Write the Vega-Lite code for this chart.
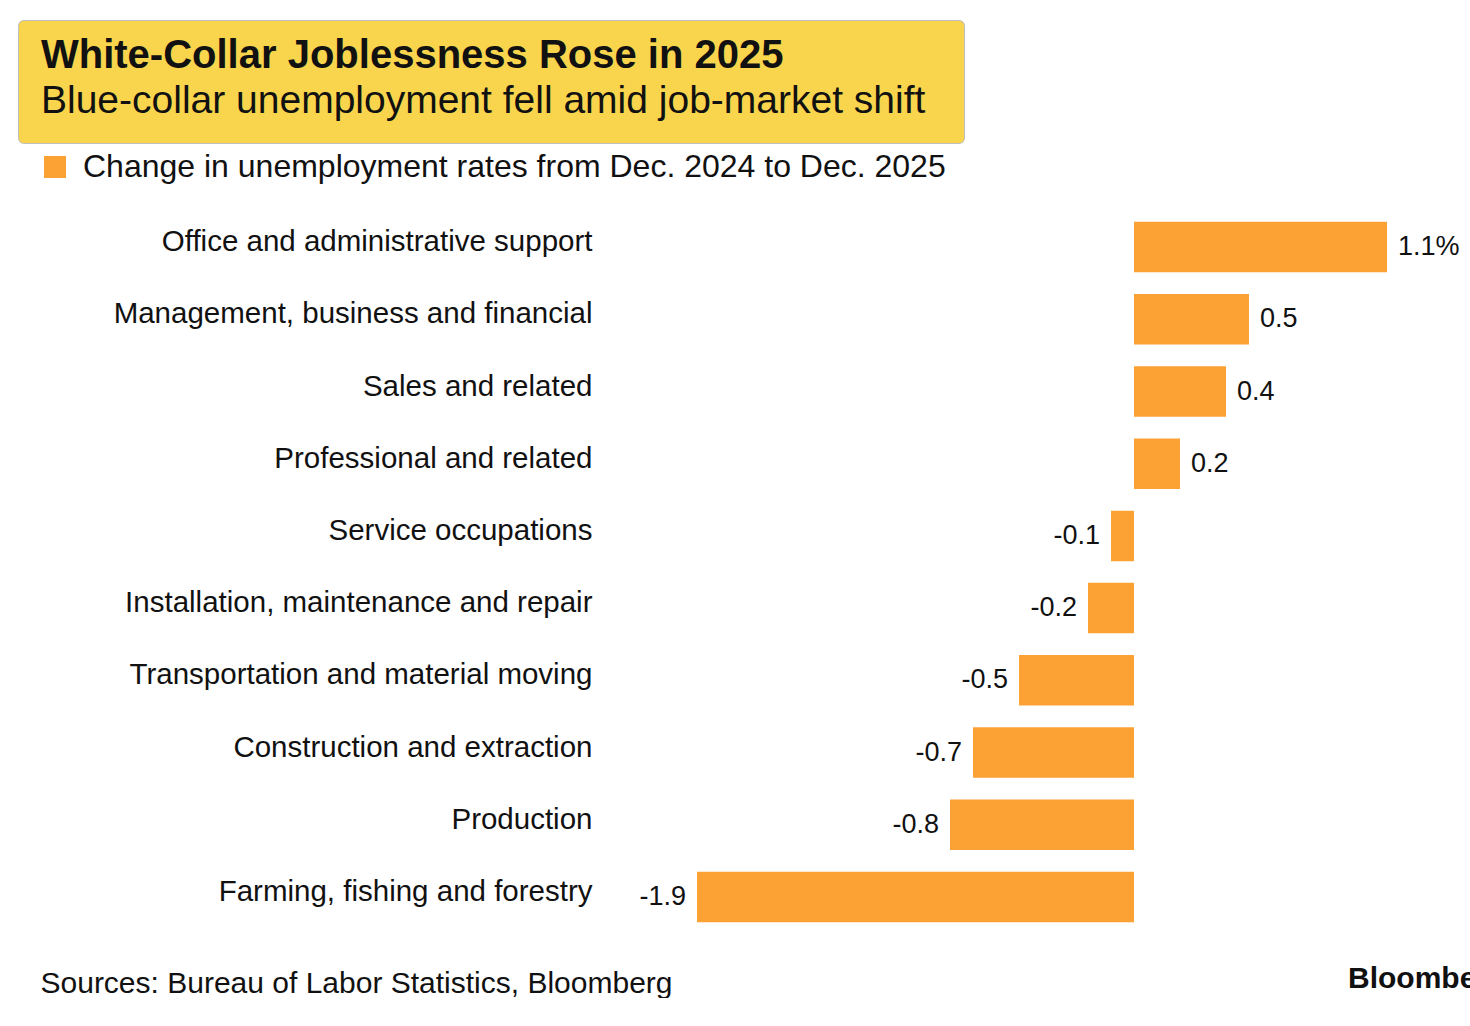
{
  "$schema": "https://vega.github.io/schema/vega-lite/v6.json",
  "padding": {"left": 18, "top": 20, "right": 0, "bottom": 0},
  "background": "white",
  "spacing": 68,
  "bounds": "flush",
  "config": {
    "font": "Liberation Sans",
    "view": {"stroke": null}
  },
  "title": {
    "text": "Bloomberg",
    "orient": "bottom",
    "anchor": "start",
    "frame": "group",
    "dx": 1329,
    "offset": -34,
    "fontSize": 30,
    "fontWeight": "bold",
    "color": "#111111"
  },
  "vconcat": [
    {
      "width": 945,
      "height": 122,
      "view": {"fill": "#F9D54D", "cornerRadius": 5, "stroke": "#8a8a8a", "strokeWidth": 2, "strokeOpacity": 0.55},
      "data": {"values": [{"box": "header"}]},
      "mark": {"type": "rect", "color": "#F9D54D", "cornerRadius": 5},
      "title": {
        "text": "White-Collar Joblessness Rose in 2025",
        "subtitle": "Blue-collar unemployment fell amid job-market shift",
        "anchor": "start",
        "frame": "group",
        "dx": 22,
        "offset": -100,
        "fontSize": 40,
        "fontWeight": "bold",
        "color": "#111111",
        "subtitleFontSize": 39,
        "subtitleColor": "#111111",
        "subtitlePadding": 6
      }
    },
    {
      "width": 1452,
      "height": 722,
      "data": {
        "values": [
          {"occupation": "Office and administrative support", "change": 1.1, "label": "1.1%"},
          {"occupation": "Management, business and financial", "change": 0.5, "label": "0.5"},
          {"occupation": "Sales and related", "change": 0.4, "label": "0.4"},
          {"occupation": "Professional and related", "change": 0.2, "label": "0.2"},
          {"occupation": "Service occupations", "change": -0.1, "label": "-0.1"},
          {"occupation": "Installation, maintenance and repair", "change": -0.2, "label": "-0.2"},
          {"occupation": "Transportation and material moving", "change": -0.5, "label": "-0.5"},
          {"occupation": "Construction and extraction", "change": -0.7, "label": "-0.7"},
          {"occupation": "Production", "change": -0.8, "label": "-0.8"},
          {"occupation": "Farming, fishing and forestry", "change": -1.9, "label": "-1.9"}
        ]
      },
      "encoding": {
        "y": {
          "field": "occupation",
          "type": "nominal",
          "sort": null,
          "scale": {"paddingInner": 0.3, "paddingOuter": 0.15},
          "axis": {
            "title": null,
            "domain": false,
            "ticks": false,
            "labelFontSize": 29.5,
            "labelColor": "#111111",
            "labelPadding": 8,
            "labelLimit": 0,
            "labelOffset": -5,
            "offset": -581
          }
        },
        "x": {
          "field": "change",
          "type": "quantitative",
          "scale": {"domain": [-1.9, 1.1], "range": [678, 1368], "nice": false},
          "axis": {
            "domain": false,
            "ticks": false,
            "labels": false,
            "grid": false,
            "title": "Sources: Bureau of Labor Statistics, Bloomberg",
            "titleFontSize": 30,
            "titleFontWeight": "normal",
            "titleColor": "#111111",
            "titleAnchor": "start",
            "titleAlign": "left",
            "titleBaseline": "alphabetic",
            "titleX": 21,
            "titleY": 59
          }
        }
      },
      "layer": [
        {
          "mark": {"type": "bar"},
          "encoding": {
            "color": {
              "datum": "Change in unemployment rates from Dec. 2024 to Dec. 2025",
              "type": "nominal",
              "scale": {"range": ["#FCA235"]},
              "legend": {
                "title": null,
                "orient": "none",
                "legendX": 20,
                "legendY": 130,
                "symbolType": "square",
                "symbolSize": 484,
                "symbolStrokeWidth": 0,
                "labelFontSize": 32,
                "labelColor": "#111111",
                "labelOffset": 12,
                "labelLimit": 0
              }
            }
          }
        },
        {
          "transform": [{"filter": "datum.change > 0"}],
          "mark": {"type": "text", "align": "left", "baseline": "middle", "dx": 11, "fontSize": 27, "color": "#111111"},
          "encoding": {"text": {"field": "label"}}
        },
        {
          "transform": [{"filter": "datum.change < 0"}],
          "mark": {"type": "text", "align": "right", "baseline": "middle", "dx": -11, "fontSize": 27, "color": "#111111"},
          "encoding": {"text": {"field": "label"}}
        }
      ]
    }
  ]
}
